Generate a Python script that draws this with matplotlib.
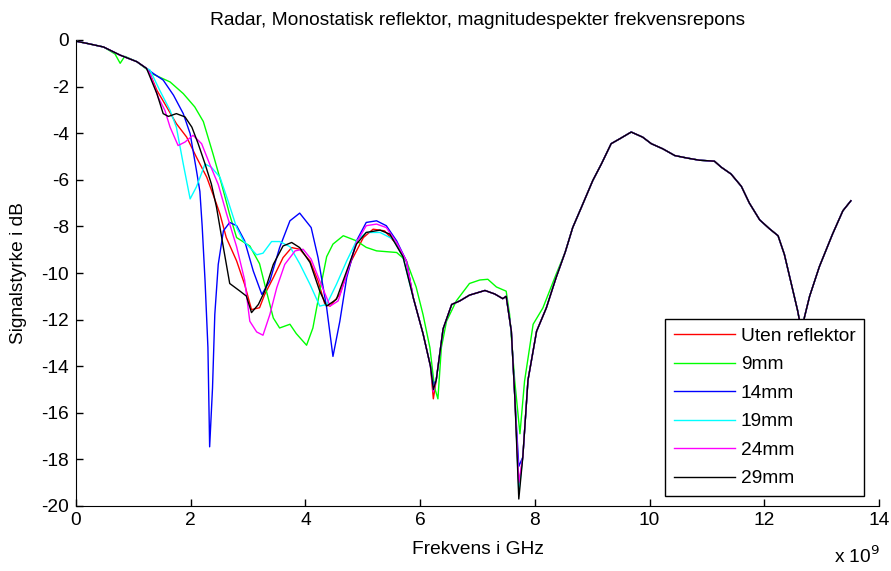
import matplotlib
matplotlib.use("Agg")
import matplotlib.pyplot as plt

plt.rcParams['font.family'] = ['Liberation Sans', 'DejaVu Sans']
plt.rcParams['axes.unicode_minus'] = False

# frequency in GHz, magnitude in dB
f_start = [0, 0.2, 0.48, 0.77, 1.06, 1.23]
db_start = [-0.05, -0.15, -0.3, -0.65, -0.93, -1.22]

f_start_green = [0, 0.2, 0.48, 0.68, 0.77, 0.85, 1.06, 1.23]
db_start_green = [-0.05, -0.15, -0.3, -0.6, -1.0, -0.7, -0.93, -1.25]

f_red = [1.29, 1.41, 1.58, 1.75, 1.93, 2.1, 2.28, 2.45, 2.51, 2.62, 2.8, 2.94, 3.06,
         3.2, 3.29, 3.44, 3.61, 3.76, 3.9, 4.08, 4.22, 4.34, 4.43, 4.6, 4.8, 5.01,
         5.18, 5.38, 5.59, 5.76]
db_red = [-1.44, -2.16, -2.87, -3.59, -4.17, -5.03, -5.89, -7.04, -7.47, -8.48, -9.48,
          -10.49, -11.57, -11.49, -10.92, -10.2, -9.34, -8.91, -8.98, -9.48, -10.34,
          -11.35, -11.42, -10.92, -9.48, -8.48, -8.12, -8.19, -8.76, -9.48]

f_green = [1.32, 1.64, 1.87, 2.07, 2.22, 2.39, 2.54, 2.68, 2.8, 3.03, 3.2, 3.32, 3.44,
           3.55, 3.73, 3.84, 4.02, 4.13, 4.25, 4.37, 4.48, 4.66, 4.89, 5.06, 5.24, 5.59,
           5.76, 5.93, 6.05, 6.17, 6.25, 6.31, 6.37, 6.46, 6.63, 6.86, 7.04, 7.18, 7.33,
           7.5, 7.56, 7.65, 7.74, 7.82, 7.97, 8.14, 8.37]
db_green = [-1.44, -1.8, -2.3, -2.87, -3.5, -4.9, -6.2, -7.5, -8.48, -8.84, -9.6, -10.78,
            -11.93, -12.36, -12.2, -12.6, -13.1, -12.36, -10.78, -9.3, -8.76, -8.4, -8.62,
            -8.9, -9.05, -9.12, -9.48, -10.6, -11.78, -13.2, -14.9, -15.4, -13.2, -12.07,
            -11.2, -10.45, -10.3, -10.27, -10.6, -10.78, -11.78, -14.65, -16.9, -14.65,
            -12.2, -11.5, -10.06]

f_blue = [1.35, 1.52, 1.7, 1.87, 1.99, 2.1, 2.16, 2.2, 2.25, 2.3, 2.33, 2.38, 2.42, 2.48,
          2.57, 2.68, 2.8, 2.94, 3.09, 3.24, 3.38, 3.55, 3.73, 3.9, 4.1, 4.22, 4.37, 4.48,
          4.6, 4.72, 4.89, 5.06, 5.24, 5.41, 5.59, 5.76]
db_blue = [-1.44, -1.72, -2.37, -3.16, -4.02, -5.6, -6.5, -8.0, -10.34, -13.2, -17.46,
           -14.94, -11.78, -9.63, -8.19, -7.83, -7.97, -8.62, -9.91, -10.92, -10.34, -8.91,
           -7.76, -7.43, -8.05, -9.34, -11.49, -13.58, -12.07, -10.2, -8.62, -7.83, -7.76,
           -7.97, -8.62, -9.48]

f_cyan = [1.29, 1.46, 1.64, 1.75, 1.87, 1.99, 2.1, 2.25, 2.36, 2.51, 2.65, 2.8, 2.92,
          3.15, 3.26, 3.41, 3.55, 3.73, 3.9, 4.08, 4.25, 4.37, 4.54, 4.72, 4.89, 5.06,
          5.3, 5.53, 5.7]
db_cyan = [-1.29, -2.16, -3.02, -3.74, -5.32, -6.82, -6.3, -5.32, -5.46, -5.89, -6.9,
           -8.05, -8.62, -9.22, -9.15, -8.65, -8.65, -8.87, -9.6, -10.49, -11.42, -11.35,
           -10.49, -9.48, -8.62, -8.26, -8.26, -8.55, -9.3]

f_magenta = [1.29, 1.43, 1.55, 1.64, 1.78, 1.9, 2.04, 2.19, 2.33, 2.48, 2.63, 2.8, 2.94,
             3.03, 3.15, 3.26, 3.38, 3.5, 3.64, 3.82, 3.96, 4.1, 4.25, 4.43, 4.57, 4.72,
             4.89, 5.06, 5.24, 5.41, 5.59, 5.76]
db_magenta = [-1.44, -2.44, -3.02, -3.74, -4.53, -4.38, -4.09, -4.45, -5.32, -6.2, -7.5,
              -8.87, -10.3, -12.07, -12.53, -12.67, -11.78, -10.63, -9.63, -9.05, -8.98,
              -9.41, -10.34, -11.42, -11.2, -10.06, -8.69, -7.97, -7.9, -8.05, -8.69, -9.48]

f_black = [1.29, 1.41, 1.52, 1.61, 1.75, 1.9, 2.02, 2.13, 2.25, 2.36, 2.45, 2.57, 2.68,
           2.86, 2.97, 3.06, 3.18, 3.29, 3.44, 3.61, 3.76, 3.9, 4.08, 4.25, 4.37, 4.54,
           4.72, 4.89, 5.06, 5.3, 5.47, 5.7]
db_black = [-1.58, -2.3, -3.16, -3.28, -3.16, -3.3, -3.74, -4.45, -5.32, -6.18, -7.18,
            -8.91, -10.45, -10.78, -10.99, -11.7, -11.35, -10.78, -9.63, -8.84, -8.69,
            -8.91, -9.55, -10.78, -11.42, -11.13, -9.91, -8.76, -8.26, -8.16, -8.33, -9.3]

# shared middle part (two notches differ per measurement)
f_mid = [5.88, 6.05, 6.18, 6.23, 6.28, 6.4, 6.55, 6.69, 6.86, 7.13, 7.3, 7.44, 7.5,
         7.59, 7.65, 7.72, 7.79, 7.88, 8.03, 8.2, 8.37]
dip6 = {'red': -15.4, 'blue': -14.8, 'cyan': -15.0, 'magenta': -15.1, 'black': -15.0}
dip7 = {'red': -19.2, 'blue': -18.3, 'cyan': -19.4, 'magenta': -19.0, 'black': -19.7}

# shared tail (all curves overlap)
f_tail = [8.53, 8.66, 8.81, 9.01, 9.16, 9.33, 9.48, 9.68, 9.88, 10.03, 10.23, 10.44,
          10.64, 10.87, 11.13, 11.25, 11.42, 11.6, 11.74, 11.92, 12.09, 12.24, 12.35,
          12.47, 12.58, 12.65, 12.7, 12.79, 12.96, 13.19, 13.37, 13.51]
db_tail = [-9.1, -8.05, -7.19, -6.03, -5.32, -4.45, -4.24, -3.95, -4.17, -4.45, -4.67,
           -4.96, -5.06, -5.16, -5.2, -5.46, -5.75, -6.28, -7.0, -7.72, -8.1, -8.4, -9.2,
           -10.45, -11.6, -12.5, -11.9, -11.0, -9.73, -8.33, -7.33, -6.9]


def mid(name):
    return [-11.06, -12.6, -14.0, dip6[name], -14.6, -12.4, -11.35, -11.2, -10.95,
            -10.75, -10.9, -11.1, -11.0, -12.5, -15.3, dip7[name], -17.9, -14.6,
            -12.5, -11.5, -10.2]


series = [
    ('Uten reflektor', 'red', (1, 0, 0), f_red, db_red),
    ('9mm', 'green', (0, 1, 0), None, None),
    ('14mm', 'blue', (0, 0, 1), f_blue, db_blue),
    ('19mm', 'cyan', (0, 1, 1), f_cyan, db_cyan),
    ('24mm', 'magenta', (1, 0, 1), f_magenta, db_magenta),
    ('29mm', 'black', (0, 0, 0), f_black, db_black),
]

fs = 13.8

fig = plt.figure(figsize=(8.91, 5.71), dpi=100)
ax = fig.add_axes([76 / 891, 65 / 571, 803 / 891, 466 / 571])

for label, name, col, f, db in series:
    if name == 'green':
        x = f_start_green + f_green + f_tail
        y = db_start_green + db_green + db_tail
    else:
        x = f_start + f + f_mid + f_tail
        y = db_start + db + mid(name) + db_tail
    ax.plot(x, y, color=col, lw=1.0, label=label)

ax.set_xlim(0, 14)
ax.set_ylim(-20, 0)
ax.set_xticks(range(0, 15, 2))
ax.set_yticks(range(-20, 1, 2))
ax.spines['top'].set_visible(False)
ax.spines['right'].set_visible(False)
ax.tick_params(direction='in', length=5, labelsize=fs, width=1)
ax.tick_params(axis='x', pad=4)
ax.tick_params(axis='y', pad=5)

ax.set_title('Radar, Monostatisk reflektor, magnitudespekter frekvensrepons',
             fontsize=fs, pad=11)
ax.set_xlabel('Frekvens i GHz', fontsize=fs, labelpad=9)
ax.set_ylabel('Signalstyrke i dB', fontsize=fs, labelpad=10)
fig.text(834 / 891, 1 - 556 / 571, 'x 10$^9$', fontsize=fs, va='center')

leg = ax.legend(loc='lower right', bbox_to_anchor=(864 / 891, 75 / 571),
                bbox_transform=fig.transFigure, fancybox=False, framealpha=1,
                edgecolor='black', fontsize=fs, handlelength=3.2, labelspacing=0.58,
                borderpad=0.45, handletextpad=0.3, borderaxespad=0)
leg.get_frame().set_linewidth(1.0)

fig.savefig('out.png', dpi=100)
